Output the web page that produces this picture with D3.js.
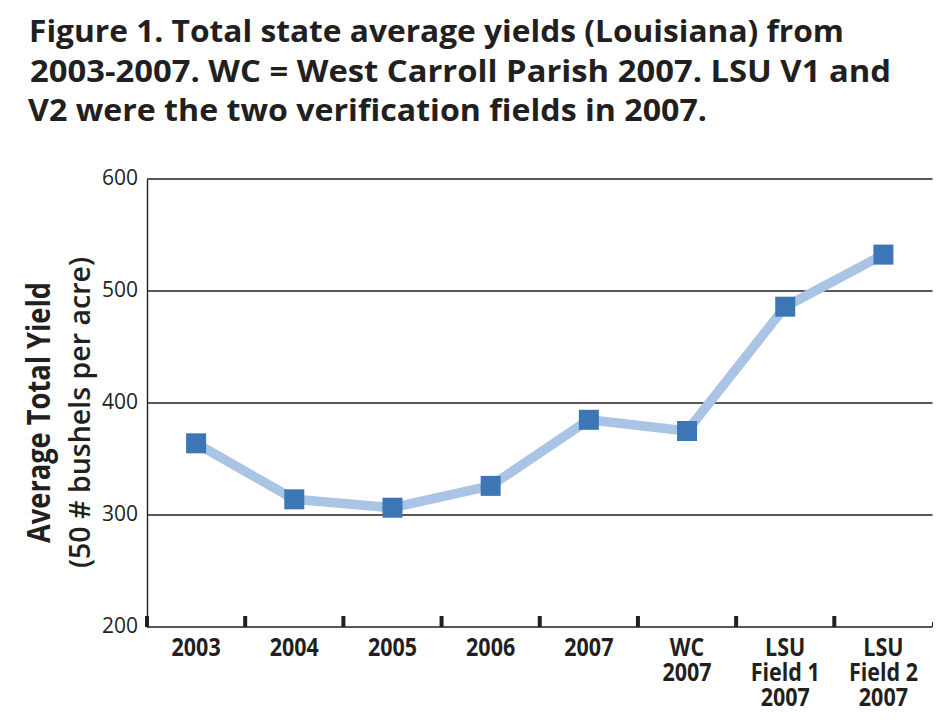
<!DOCTYPE html>
<html><head><meta charset="utf-8">
<script src="https://cdn.jsdelivr.net/npm/d3@7"></script>
<style>body{margin:0;background:#fff}svg{display:block}</style>
</head><body>
<svg id="chart" width="952" height="722"></svg>
<script>
// ---- data ----
const categories = ["2003", "2004", "2005", "2006", "2007", "WC 2007", "LSU Field 1 2007", "LSU Field 2 2007"];
const categoryLabels = [["2003"], ["2004"], ["2005"], ["2006"], ["2007"], ["WC", "2007"], ["LSU", "Field 1", "2007"], ["LSU", "Field 2", "2007"]];
const yields = [364, 314, 306.5, 326, 385, 375, 486, 532.5];
const yTicks = [200, 300, 400, 500, 600];
const titleLines = [
  "Figure 1. Total state average yields (Louisiana) from",
  "2003-2007. WC = West Carroll Parish 2007. LSU V1 and",
  "V2 were the two verification fields in 2007."
];
const yTitleLines = ["Average Total Yield", "(50 # bushels per acre)"];

// ---- layout ----
const ink = "#231f20";
const svg = d3.select("#chart");
const plotLeft = 147, plotRight = 932.5, plotTop = 179, plotBottom = 627;
const x = d3.scaleBand().domain(categories).range([plotLeft, plotRight]).padding(0);
const y = d3.scaleLinear().domain([200, 600]).range([plotBottom, plotTop]);
const font = "'Open Sans', 'Noto Sans', sans-serif";

// title
const titleLayout = [{x: 29, yb: 42, len: 815}, {x: 30, yb: 82, len: 861}, {x: 28, yb: 121, len: 679}];
svg.append("g").selectAll("text").data(titleLines).join("text")
  .attr("x", (d, i) => titleLayout[i].x)
  .attr("y", (d, i) => titleLayout[i].yb)
  .attr("textLength", (d, i) => titleLayout[i].len)
  .attr("lengthAdjust", "spacingAndGlyphs")
  .attr("font-family", font).attr("font-weight", 700).attr("font-size", 30.5)
  .attr("fill", ink)
  .text(d => d);

// y axis title
const yTitleLayout = [{bx: 50, len: 261, size: 33, w: 700}, {bx: 90, len: 311, size: 29.5, w: 600}];
svg.append("g").selectAll("text").data(yTitleLines).join("text")
  .attr("transform", (d, i) => `translate(${yTitleLayout[i].bx},${412.5}) rotate(-90)`)
  .attr("text-anchor", "middle")
  .attr("textLength", (d, i) => yTitleLayout[i].len)
  .attr("lengthAdjust", "spacingAndGlyphs")
  .attr("font-family", font)
  .attr("font-weight", (d, i) => yTitleLayout[i].w)
  .attr("font-size", (d, i) => yTitleLayout[i].size)
  .attr("fill", ink)
  .text(d => d);

// gridlines
svg.append("g").selectAll("line").data(yTicks.filter(v => v > 200)).join("line")
  .attr("x1", plotLeft).attr("x2", plotRight)
  .attr("y1", d => y(d)).attr("y2", d => y(d))
  .attr("stroke", ink).attr("stroke-width", 1.3);

// y axis via d3 axis
const yAxis = svg.append("g").attr("transform", `translate(${plotLeft},0)`)
  .call(d3.axisLeft(y).tickValues(yTicks).tickSize(0).tickPadding(9).tickFormat(d3.format("d")));
yAxis.select(".domain").attr("stroke", ink).attr("stroke-width", 1.4);
yAxis.selectAll("text")
  .attr("font-family", font).attr("font-size", 21).attr("fill", ink)
  .attr("dy", "0.27em");

// x axis line
svg.append("line").attr("x1", plotLeft).attr("x2", plotRight).attr("y1", plotBottom).attr("y2", plotBottom)
  .attr("stroke", ink).attr("stroke-width", 1.5);
// x ticks at band boundaries
const boundaries = categories.map(c => x(c));
svg.append("g").selectAll("rect").data(boundaries).join("rect")
  .attr("x", d => d - 2).attr("y", plotBottom - 11).attr("width", 4).attr("height", 11)
  .attr("fill", ink);
svg.append("line").attr("x1", plotRight).attr("x2", plotRight).attr("y1", plotBottom - 5).attr("y2", plotBottom)
  .attr("stroke", ink).attr("stroke-width", 1);

// x labels
const xl = svg.append("g").selectAll("text").data(categories).join("text")
  .attr("transform", d => `translate(${x(d) + x.bandwidth() / 2},0) scale(0.86,1)`)
  .attr("text-anchor", "middle")
  .attr("font-family", font).attr("font-weight", 700).attr("font-size", 25)
  .attr("fill", ink);
xl.selectAll("tspan").data((d, i) => categoryLabels[i]).join("tspan")
  .attr("x", 0).attr("y", (d, j) => 656 + j * 25)
  .text(d => d);

// line + markers
const pts = categories.map((c, i) => ({c, v: yields[i]}));
const line = d3.line().x(d => x(d.c) + x.bandwidth() / 2).y(d => y(d.v));
svg.append("path").datum(pts).attr("d", line)
  .attr("fill", "none").attr("stroke", "#aac4e6").attr("stroke-width", 9.5)
  .attr("stroke-linejoin", "round");
svg.append("g").selectAll("rect").data(pts).join("rect")
  .attr("x", d => x(d.c) + x.bandwidth() / 2 - 10)
  .attr("y", d => y(d.v) - 10)
  .attr("width", 20).attr("height", 20)
  .attr("fill", "#3c76b4");
</script>
</body></html>
